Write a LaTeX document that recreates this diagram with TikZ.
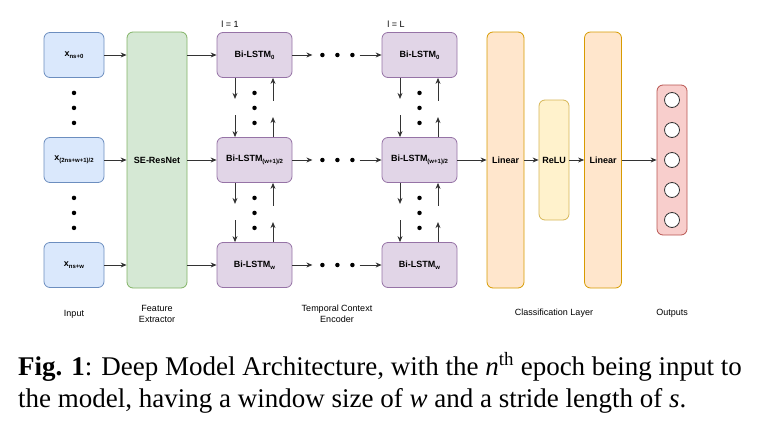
\documentclass[tikz,border=0pt]{standalone}
\usepackage{fontspec}
\setmainfont{Liberation Serif}
\setsansfont{Liberation Sans}
\usetikzlibrary{arrows.meta,positioning,calc}
\definecolor{inFill}{HTML}{DAE8FC}
\definecolor{inLine}{HTML}{6C8EBF}
\definecolor{feFill}{HTML}{D5E8D4}
\definecolor{feLine}{HTML}{82B366}
\definecolor{lsFill}{HTML}{E1D5E7}
\definecolor{lsLine}{HTML}{9673A6}
\definecolor{linFill}{HTML}{FFE6CC}
\definecolor{linLine}{HTML}{D79B00}
\definecolor{reFill}{HTML}{FFF2CC}
\definecolor{reLine}{HTML}{D6B656}
\definecolor{outFill}{HTML}{F8CECC}
\definecolor{outLine}{HTML}{B85450}
\definecolor{wire}{HTML}{333333}
\tikzset{
  blk/.style={draw,rounded corners=6pt,line width=0.8pt,inner sep=0pt,align=center,
    font=\sffamily\bfseries\fontsize{9}{11}\selectfont},
  inbox/.style={blk,draw=inLine,fill=inFill,minimum width=60,minimum height=45},
  febox/.style={blk,draw=feLine,fill=feFill,minimum width=60,minimum height=256},
  lsbox/.style={blk,draw=lsLine,fill=lsFill,minimum width=75,minimum height=45},
  linbox/.style={blk,draw=linLine,fill=linFill,minimum width=37,minimum height=256},
  rebox/.style={blk,draw=reLine,fill=reFill,minimum width=30,minimum height=120},
  outbox/.style={blk,draw=outLine,fill=outFill,minimum width=30,minimum height=150},
  unit/.style={circle,draw=wire,fill=white,line width=0.8pt,minimum size=15,inner sep=0pt},
  flow/.style={draw=wire,line width=0.8pt,-{Stealth[length=6pt,width=5pt]}},
  dotm/.style={circle,fill=black,inner sep=0pt,minimum size=4.5},
  lbl/.style={font=\sffamily\fontsize{9}{11}\selectfont,align=center,inner sep=0pt},
  captext/.style={font=\fontsize{27}{32}\selectfont,inner sep=0pt}
}
\newcommand{\lowidx}[1]{\raisebox{-0.35ex}{\fontsize{6}{7}\selectfont#1}}

\begin{document}
\begin{tikzpicture}[x=1pt,y=-1pt]
  \useasboundingbox (0,0) rectangle (762,431);
  % input windows and feature extractor
  \node[inbox] (x1) at (74,55) {x\lowidx{ns+0}};
  \node[inbox] (x2) at (74,160) {x\lowidx{(2ns+w+1)/2}};
  \node[inbox] (x3) at (74,265) {x\lowidx{ns+w}};
  \node[febox] (se) at (157,160) {SE-ResNet};
  \foreach \u in {1,2}
    \foreach \k in {1,2,3} \node[dotm] (xd\u\k) at ([shift={(0,15*\k)}]x\u.south) {};
  % temporal context encoder
  \foreach \c/\cx in {a/254.5,b/419.5}{
    \node[lsbox] (l\c1) at (\cx,55) {Bi-LSTM\lowidx{0}};
    \node[lsbox] (l\c2) at (\cx,160) {Bi-LSTM\lowidx{(w+1)/2}};
    \node[lsbox] (l\c3) at (\cx,265) {Bi-LSTM\lowidx{w}};
  }
  \foreach \r in {1,2,3}{
    \draw[flow] (x\r.east) -- (x\r.east -| se.west);
    \draw[flow] (se.east |- la\r) -- (la\r.west);
    \coordinate (hs\r) at ([shift={(20,0)}]la\r.east);
    \coordinate (he\r) at ([shift={(-22,0)}]lb\r.west);
    \draw[flow] (la\r.east) -- (hs\r);
    \draw[flow] (he\r) -- (lb\r.west);
    \foreach \k in {1,2,3} \node[dotm] (hd\r\k) at ([shift={(15+15*\k,0)}]la\r.east) {};
  }
  \foreach \c in {a,b}
    \foreach \u/\v in {1/2,2/3}{
      \coordinate (dn\c\u) at ([shift={(-19.5,21)}]l\c\u.south);
      \coordinate (dm\c\u) at ([shift={(-19.5,-22)}]l\c\v.north);
      \coordinate (up\c\u) at ([shift={(18.5,23)}]l\c\u.south);
      \coordinate (um\c\u) at ([shift={(18.5,-20)}]l\c\v.north);
      \draw[flow] ([xshift=-19.5]l\c\u.south) -- (dn\c\u);
      \draw[flow] (dm\c\u) -- ([xshift=-19.5]l\c\v.north);
      \draw[flow] (up\c\u) -- ([xshift=18.5]l\c\u.south);
      \draw[flow] ([xshift=18.5]l\c\v.north) -- (um\c\u);
      \foreach \k in {1,2,3} \node[dotm] (vd\c\u\k) at ([shift={(0,15*\k)}]l\c\u.south) {};
    }
  \node[lbl] (tl1) at (230,24) {l = 1};
  \node[lbl] (tlL) at (396,24) {l = L};
  % classification layer and outputs
  \node[linbox] (lin1) at (505.5,160) {Linear};
  \node[rebox] (relu) at (554,160) {ReLU};
  \node[linbox] (lin2) at (603,160) {Linear};
  \node[outbox] (out) at (672,160) {};
  \foreach \k in {1,...,5} \node[unit] (o\k) at (672,70+30*\k) {};
  \draw[flow] (lb2.east) -- (lin1.west);
  \draw[flow] (lin1) -- (relu);
  \draw[flow] (relu) -- (lin2);
  \draw[flow] (lin2) -- (out);
  % stage names
  \node[lbl] (nIn) at (74,314) {Input};
  \node[lbl] (nFe) at (157,314) {Feature\\Extractor};
  \node[lbl] (nTc) at (337,314) {Temporal Context\\Encoder};
  \node[lbl] (nCl) at (554,313) {Classification Layer};
  \node[lbl] (nOut) at (672,313) {Outputs};
  % caption
  \node[captext,anchor=base west] (cap1) at (18,375) {\textbf{Fig. 1}: Deep Model Architecture, with the \textit{n}\textsuperscript{th} epoch being input to};
  \node[captext,anchor=base west] (cap2) at (18,407) {the model, having a window size of \textit{w} and a stride length of \textit{s}.};
\end{tikzpicture}
\end{document}
